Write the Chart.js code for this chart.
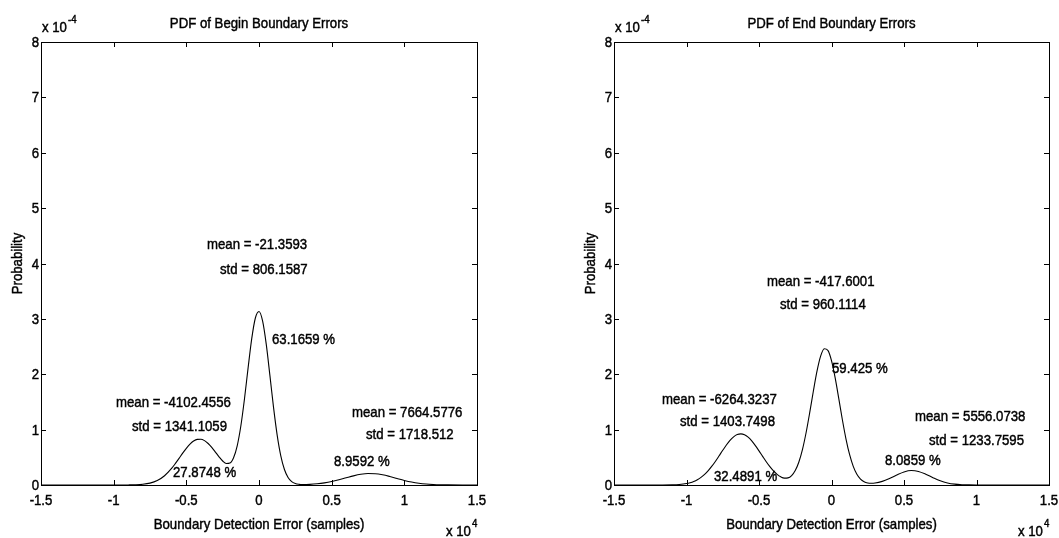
<!DOCTYPE html>
<html>
<head>
<meta charset="utf-8">
<script src="https://cdn.jsdelivr.net/npm/chart.js@4.4.1/dist/chart.umd.min.js"></script>
<style>
  html, body { margin: 0; padding: 0; background: #fff; overflow: hidden; }
  #wrap { position: relative; width: 1059px; height: 538px; }
  #wrap canvas { position: absolute; top: 0; }
</style>
</head>
<body>
<div id="wrap">
  <canvas id="beginChart" width="530" height="538" style="left:0px"></canvas>
  <canvas id="endChart" width="486" height="538" style="left:573px"></canvas>
</div>
<script>
// Boundary error (samples) and estimated probability density (in units of 1e-4)
const beginErr = [-15000, -14000, -13000, -12000, -11000, -10000, -9500, -9000, -8500, -8000, -7500, -7000, -6500, -6000,
  -5750, -5500, -5250, -5000, -4750, -4500, -4250, -4000, -3750, -3500, -3250, -3000, -2750, -2500, -2250, -2000,
  -1750, -1500, -1250, -1000, -750, -500, -250, 0, 250, 500, 750, 1000, 1250, 1500, 1750, 2000, 2250, 2500, 2750, 3000,
  3500, 4000, 4500, 5000, 5500, 6000, 6500, 7000, 7500, 8000, 8500, 9000, 9500, 10000, 10500, 11000, 11500, 12000,
  12500, 13000, 14000, 15000];
const beginPdf = [0, 0, 0, 0, 0, 0.0001, 0.0003, 0.0011, 0.0038, 0.0122, 0.0335, 0.0804, 0.1678, 0.3047,
  0.3899, 0.4818, 0.5750, 0.6629, 0.7380, 0.7935, 0.8242, 0.8268, 0.8011, 0.7499, 0.6785, 0.5949, 0.5089, 0.4338, 0.3879, 0.3964,
  0.4916, 0.7075, 1.0648, 1.5531, 2.1143, 2.6433, 3.0161, 3.1325, 2.9580, 2.5383, 1.9790, 1.4017, 0.9020, 0.5271, 0.2800, 0.1357, 0.0605, 0.0258, 0.0120, 0.0080,
  0.0112, 0.0214, 0.0382, 0.0625, 0.0941, 0.1301, 0.1653, 0.1930, 0.2070, 0.2041, 0.1848, 0.1538, 0.1176, 0.0826, 0.0533, 0.0316, 0.0172, 0.0086,
  0.0040, 0.0017, 0.0002, 0];

const endErr = [-15000, -14000, -13000, -12000, -11000, -10500,
  -10000, -9750, -9500, -9250, -9000, -8750, -8500, -8250, -8000, -7750, -7500, -7250, -7000, -6750, -6500, -6250,
  -6000, -5750, -5500, -5250, -5000, -4750, -4500, -4250, -4000, -3750, -3500, -3250, -3000, -2750, -2500, -2250,
  -2000, -1750, -1500, -1250, -1000, -750, -500, -250, 0, 250, 500, 750, 1000, 1250, 1500, 1750, 2000, 2250, 2500, 2750, 3000,
  3500, 4000, 4500, 5000, 5500, 6000, 6500, 7000, 7500, 8000, 8500, 9000, 9500, 10000,
  11000, 12000, 13000, 14000, 15000];
const endPdf = [0, 0, 0, 0.0002, 0.0031, 0.0097,
  0.0268, 0.0423, 0.0648, 0.0961, 0.1382, 0.1925, 0.2597, 0.3395, 0.4299, 0.5274, 0.6268, 0.7216, 0.8049, 0.8697, 0.9104, 0.9233,
  0.9071, 0.8634, 0.7961, 0.7111, 0.6155, 0.5161, 0.4194, 0.3307, 0.2537, 0.1917, 0.1471, 0.1239, 0.1281, 0.1694, 0.2603, 0.4150,
  0.6442, 0.9480, 1.3109, 1.6974, 2.0549, 2.3261, 2.4603, 2.4320, 2.2462, 1.9388, 1.5639, 1.1788, 0.8302, 0.5470, 0.3373, 0.1953, 0.1078, 0.0592, 0.0366, 0.0304, 0.0350,
  0.0658, 0.1181, 0.1812, 0.2362, 0.2612, 0.2451, 0.1951, 0.1318, 0.0756, 0.0368, 0.0152, 0.0053, 0.0016, 0.0004,
  0, 0, 0, 0, 0];

// Fitted mixture components: mean, std (samples) and share (%)
const beginMean = [-4102.4556, -21.3593, 7664.5776];
const beginStd = [1341.1059, 806.1587, 1718.512];
const beginShare = [27.8748, 63.1659, 8.9592];
const endMean = [-6264.3237, -417.6001, 5556.0738];
const endStd = [1403.7498, 960.1114, 1233.7595];
const endShare = [32.4891, 59.425, 8.0859];

// Axis tick values
const xTicks = [-15000, -10000, -5000, 0, 5000, 10000, 15000];
const yTicks = [0, 1, 2, 3, 4, 5, 6, 7, 8];

const FONT = '"Liberation Sans", Arial, sans-serif';
const NARROW = 0.88;   // horizontal squeeze giving a narrow face
const fmtX = v => String(Math.round(v / 1000) / 10);

// Text anchors (data coordinates) for the mean / std / share notes of each component
const beginNotes = {
  mean: [[-9839, 1.48], [-3578, 4.33], [6399, 1.30]],
  std: [[-8738, 1.05], [-2683, 3.88], [7362, 0.90]],
  share: [[-5917, 0.22], [894, 2.62], [5161, 0.42]]
};
const endNotes = {
  mean: [[-11690, 1.54], [-4448, 3.67], [5759, 1.23]],
  std: [[-10448, 1.14], [-3552, 3.25], [6724, 0.80]],
  share: [[-8103, 0.14], [34, 2.10], [3690, 0.43]]
};

function buildNotes(means, stds, shares, at) {
  const out = [];
  for (let i = 0; i < means.length; i++) {
    out.push({ text: 'mean = ' + String(means[i]), x: at.mean[i][0], y: at.mean[i][1] });
    out.push({ text: 'std = ' + String(stds[i]), x: at.std[i][0], y: at.std[i][1] });
    out.push({ text: String(shares[i]) + ' %', x: at.share[i][0], y: at.share[i][1] });
  }
  return out;
}

// Narrow text helper: draws at (x, y) with the given alignment / baseline / rotation
function say(ctx, text, x, y, size, align, baseline, rot) {
  ctx.save();
  ctx.translate(x, y);
  if (rot) ctx.rotate(rot);
  ctx.scale(NARROW, 1);
  ctx.font = size + 'px ' + FONT;
  ctx.textAlign = align || 'left';
  ctx.textBaseline = baseline || 'alphabetic';
  ctx.lineWidth = 0.45;
  ctx.strokeStyle = '#000';
  ctx.fillText(text, 0, 0);
  ctx.strokeText(text, 0, 0);
  const w = ctx.measureText(text).width * NARROW;
  ctx.restore();
  return w;
}

// Box frame with inward ticks on all four sides plus all figure texts
const matlabFrame = {
  id: 'matlabFrame',
  afterDraw(chart, args, opts) {
    const { ctx, chartArea: a } = chart;
    const xs = chart.scales.x, ys = chart.scales.y;
    const L = Math.round(a.left), R = Math.round(a.right), T = Math.round(a.top), B = Math.round(a.bottom);
    ctx.save();
    ctx.strokeStyle = '#000';
    ctx.lineWidth = 1;
    ctx.strokeRect(L + 0.5, T + 0.5, R - L, B - T);
    const tl = 5;
    ctx.beginPath();
    xs.ticks.forEach(t => {
      const p = Math.round(xs.getPixelForValue(t.value)) + 0.5;
      ctx.moveTo(p, B); ctx.lineTo(p, B - tl);
      ctx.moveTo(p, T); ctx.lineTo(p, T + tl);
    });
    ys.ticks.forEach(t => {
      const p = Math.round(ys.getPixelForValue(t.value)) + 0.5;
      ctx.moveTo(L, p); ctx.lineTo(L + tl, p);
      ctx.moveTo(R, p); ctx.lineTo(R - tl, p);
    });
    ctx.stroke();
    ctx.fillStyle = '#000';

    // tick labels from the scales
    xs.ticks.forEach(t => say(ctx, t.label, xs.getPixelForValue(t.value), B + 20, 15, 'center'));
    ys.ticks.forEach(t => say(ctx, t.label, L - 2, ys.getPixelForValue(t.value) + 5, 15, 'right'));

    const cx = (L + R) / 2;
    say(ctx, opts.title, cx, 28, 15, 'center');
    // exponent of the y axis
    const w1 = say(ctx, 'x 10', L + 1, 32, 15);
    say(ctx, '-4', L + 2 + w1, 23, 11);
    // exponent of the x axis
    const w2 = say(ctx, 'x 10', R - 31, 536, 15);
    say(ctx, '4', R - 30 + w2, 527, 11);
    // axis titles
    say(ctx, 'Boundary Detection Error (samples)', cx, 529, 15, 'center');
    say(ctx, 'Probability', L - 19, (T + B) / 2, 15, 'center', 'alphabetic', -Math.PI / 2);
    // component notes
    opts.notes.forEach(n => {
      say(ctx, n.text, xs.getPixelForValue(n.x), ys.getPixelForValue(n.y), 15, 'left', 'middle');
    });
    ctx.restore();
  }
};

function makeChart(id, errs, pdf, title, notes, padRight) {
  return new Chart(document.getElementById(id), {
    type: 'line',
    data: {
      datasets: [{
        data: errs.map((e, i) => ({ x: e, y: pdf[i] })),
        borderColor: '#000',
        borderWidth: 1.1,
        pointRadius: 0,
        fill: false,
        cubicInterpolationMode: 'monotone'
      }]
    },
    options: {
      responsive: false,
      animation: false,
      devicePixelRatio: 1,
      layout: { padding: { left: 0, top: 42, right: padRight, bottom: 0 } },
      plugins: {
        legend: { display: false },
        title: { display: false },
        tooltip: { enabled: false },
        matlabFrame: { title: title, notes: notes }
      },
      scales: {
        x: {
          type: 'linear',
          min: -15000, max: 15000,
          afterBuildTicks: s => { s.ticks = xTicks.map(v => ({ value: v })); },
          afterFit: s => { s.height = 53; },
          grid: { display: false, drawTicks: false },
          border: { display: false },
          ticks: { display: false, callback: v => fmtX(v) }
        },
        y: {
          min: 0, max: 8,
          afterBuildTicks: s => { s.ticks = yTicks.map(v => ({ value: v })); },
          afterFit: s => { s.width = 41; },
          grid: { display: false, drawTicks: false },
          border: { display: false },
          ticks: { display: false, callback: v => String(v) }
        }
      }
    },
    plugins: [matlabFrame]
  });
}

makeChart('beginChart', beginErr, beginPdf, 'PDF of Begin Boundary Errors',
  buildNotes(beginMean, beginStd, beginShare, beginNotes), 53);
makeChart('endChart', endErr, endPdf, 'PDF of End Boundary Errors',
  buildNotes(endMean, endStd, endShare, endNotes), 10);
</script>
</body>
</html>
